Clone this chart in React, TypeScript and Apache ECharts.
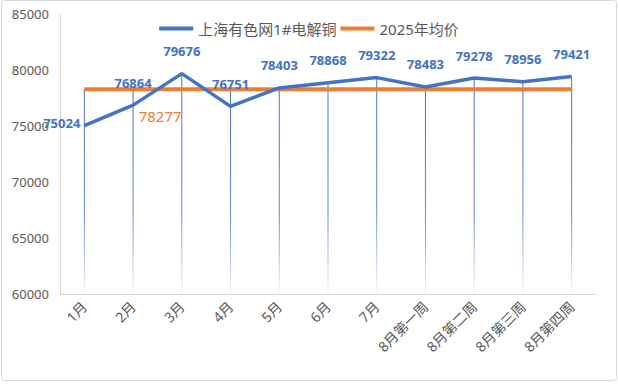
import React, { useEffect, useRef } from "react";
import * as echarts from "echarts";

const categories = ["1月", "2月", "3月", "4月", "5月", "6月", "7月", "8月第一周", "8月第二周", "8月第三周", "8月第四周"];
const copperPrices = [75024, 76864, 79676, 76751, 78403, 78868, 79322, 78483, 79278, 78956, 79421];
const avg2025 = 78277;
const avgSeries = categories.map(() => avg2025);
const yTicks = { min: 60000, max: 85000, interval: 5000 };

const FONT = "'Noto Sans', 'Noto Sans CJK SC', sans-serif";

export default function App() {
  const ref = useRef<HTMLDivElement>(null);
  useEffect(() => {
    const chart = echarts.init(ref.current!, undefined, { renderer: "svg" });
    const dropData = copperPrices.map((v, i) => Math.max(v, avgSeries[i]));
    chart.setOption({
      animation: false,
      backgroundColor: "#fff",
      textStyle: { fontFamily: FONT },
      graphic: [
        {
          type: "rect",
          shape: { x: 1.5, y: 0.5, width: 615, height: 380, r: 3 },
          style: { fill: "none", stroke: "#D9D9D9", lineWidth: 1 },
          silent: true,
        },
      ],
      legend: {
        top: 16,
        left: "center",
        data: ["上海有色网1#电解铜", "2025年均价"],
        icon: "rect",
        itemWidth: 34,
        itemHeight: 4,
        itemGap: 4,
        textStyle: { color: "#595959", fontSize: 15, fontFamily: FONT },
      },
      grid: { left: 60, right: 22, top: 14, bottom: 98 },
      xAxis: {
        type: "category",
        data: categories,
        boundaryGap: true,
        axisLine: { lineStyle: { color: "#D9D9D9" } },
        axisTick: { show: false },
        axisLabel: { rotate: 45, color: "#595959", fontSize: 14, margin: 10, interval: 0 },
      },
      yAxis: {
        type: "value",
        min: yTicks.min,
        max: yTicks.max,
        interval: yTicks.interval,
        axisLine: { show: true, lineStyle: { color: "#D9D9D9" } },
        axisTick: { show: false },
        splitLine: { show: false },
        axisLabel: { color: "#595959", fontSize: 13, margin: 11, formatter: (v: number) => String(v) },
      },
      series: [
        {
          type: "bar",
          name: "drop",
          data: dropData,
          barWidth: 1,
          silent: true,
          itemStyle: {
            color: new echarts.graphic.LinearGradient(0, 0, 0, 1, [
              { offset: 0, color: "#4472C4" },
              { offset: 0.6, color: "rgba(68,114,196,0.85)" },
              { offset: 1, color: "rgba(68,114,196,0.08)" },
            ]),
          },
          z: 1,
        },
        {
          type: "line",
          name: "2025年均价",
          data: avgSeries.map((v, i) =>
            i === 1
              ? {
                  value: v,
                  label: {
                    show: true,
                    position: "bottom",
                    distance: 5,
                    offset: [27, 14],
                    color: "#ED7D31",
                    fontSize: 15,
                  },
                }
              : v
          ),
          symbol: "circle",
          symbolSize: 0,
          showSymbol: true,
          lineStyle: { color: "#ED7D31", width: 4 },
          itemStyle: { color: "#ED7D31" },
          label: { show: false },
          z: 3,
        },
        {
          type: "line",
          name: "上海有色网1#电解铜",
          data: copperPrices.map((v, i) =>
            i === 0
              ? { value: v, label: { position: "left", distance: 4, offset: [0, -3] } }
              : v
          ),
          symbol: "circle",
          symbolSize: 0,
          showSymbol: true,
          lineStyle: { color: "#4472C4", width: 3.5 },
          itemStyle: { color: "#4472C4" },
          label: {
            show: true,
            position: "top",
            distance: 16,
            color: "#4472C4",
            fontWeight: "bold",
            fontSize: 13,
          },
          z: 4,
        },
      ],
    });
    return () => chart.dispose();
  }, []);
  return (
    <div
      ref={ref}
      style={{ position: "fixed", left: 0, top: 0, width: 618, height: 392, background: "#fff" }}
    />
  );
}
